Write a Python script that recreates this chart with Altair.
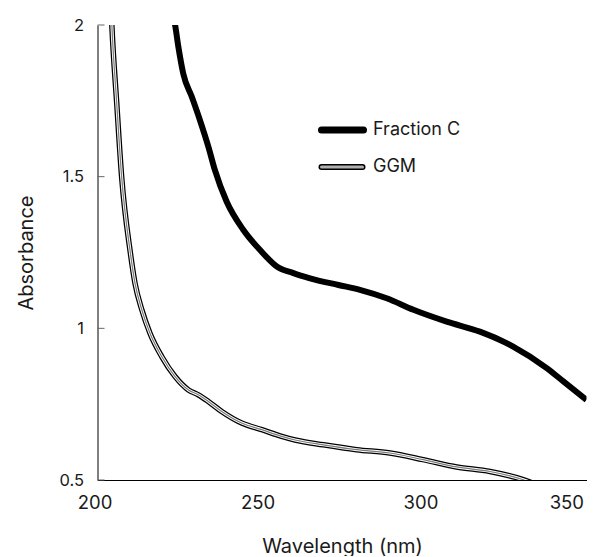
import altair as alt
import pandas as pd

# Fraction C absorbance spectrum
frac_wl = [222.5, 223.8, 224.8, 226.3, 228.9, 231.4, 234.0, 236.0, 239.6, 244.7, 249.8,
           255.0, 260.1, 265.2, 273.9, 280.5, 288.7, 296.9, 307.1, 317.3, 327.5, 337.8,
           342.9, 350.0]
frac_abs = [2.05, 2.0, 1.928, 1.84, 1.764, 1.687, 1.599, 1.522, 1.418, 1.325, 1.259,
            1.204, 1.182, 1.165, 1.143, 1.127, 1.099, 1.061, 1.022, 0.989, 0.940, 0.869,
            0.825, 0.764]

# GGM absorbance spectrum
ggm_wl = [204.2, 204.4, 205.9, 207.4, 210.0, 211.5, 213.6, 216.1, 219.7, 223.8, 227.9,
          230.9, 234.0, 238.1, 244.2, 250.4, 256.5, 260.6, 269.3, 279.5, 289.7, 299.9,
          310.2, 320.4, 330.6, 333.5]
ggm_abs = [2.05, 2.0, 1.742, 1.50, 1.255, 1.149, 1.061, 0.984, 0.907, 0.841, 0.797,
           0.781, 0.759, 0.726, 0.688, 0.666, 0.644, 0.632, 0.616, 0.600, 0.589, 0.567,
           0.543, 0.528, 0.501, 0.49]

x_ticks = [200, 250, 300, 350]
y_ticks = [0.5, 1, 1.5, 2]
legend_labels = ["Fraction C", "GGM"]

frac_df = pd.DataFrame({"wl": frac_wl, "abs": frac_abs})
ggm_df = pd.DataFrame({"wl": ggm_wl, "abs": ggm_abs})
tick_df = pd.DataFrame({"t": y_ticks})

FONT = "Inter"
TXT = "#1a1a1a"

x_axis = alt.Axis(values=x_ticks, ticks=False, tickSize=0, grid=False, domainColor="black",
                  labelFlush=False, labelOffset=-3,
                  labelAlign=alt.condition("datum.value == 350", alt.value("right"),
                                           alt.value("center")),
                  labelFontSize=18.5, labelFont=FONT, labelColor=TXT, labelPadding=13,
                  title="Wavelength (nm)", titleFontSize=20, titleFont=FONT,
                  titleFontWeight="normal", titleColor=TXT, titleBaseline="alphabetic",
                  titleY=72)
y_axis = alt.Axis(values=y_ticks, ticks=False, tickSize=0, grid=False, domainColor="black",
                  format=".1~f",
                  labelFontSize=16.5, labelFont=FONT, labelColor=TXT, labelPadding=14,
                  title="Absorbance", titleFontSize=20, titleFont=FONT,
                  titleFontWeight="normal", titleColor=TXT, titleX=-61, titleY=227.5,
                  titleBaseline="bottom")

xs = alt.Scale(domain=[200, 350], nice=False, zero=False)
ys = alt.Scale(domain=[0.5, 2], nice=False, zero=False)

def enc(chart):
    return chart.encode(
        x=alt.X("wl:Q", scale=xs, axis=x_axis),
        y=alt.Y("abs:Q", scale=ys, axis=y_axis),
    )

ggm_outer = enc(alt.Chart(ggm_df).mark_line(color="black", strokeWidth=5.5, clip=True,
                                            interpolate="monotone"))
ggm_white = enc(alt.Chart(ggm_df).mark_line(color="white", strokeWidth=3, clip=True,
                                            interpolate="monotone"))
ggm_core = enc(alt.Chart(ggm_df).mark_line(color="#7a7a7a", strokeWidth=1.2, clip=True,
                                           interpolate="monotone"))
frac = enc(alt.Chart(frac_df).mark_line(color="black", strokeWidth=6, clip=True,
                                        interpolate="monotone", strokeJoin="round"))

yticks = alt.Chart(tick_df).mark_rule(color="#666666", strokeWidth=1).encode(
    x=alt.value(0), x2=alt.value(7),
    y=alt.Y("t:Q", scale=ys, axis=y_axis),
)

# legend
leg1 = alt.Chart(pd.DataFrame({"a": [0]})).mark_rule(color="black", strokeWidth=7,
                                                     strokeCap="round").encode(
    x=alt.value(224), x2=alt.value(266), y=alt.value(105))
leg2a = alt.Chart(pd.DataFrame({"a": [0]})).mark_rule(color="black", strokeWidth=6,
                                                      strokeCap="round").encode(
    x=alt.value(224), x2=alt.value(265), y=alt.value(142))
leg2b = alt.Chart(pd.DataFrame({"a": [0]})).mark_rule(color="#b0b0b0", strokeWidth=3,
                                                      strokeCap="round").encode(
    x=alt.value(224), x2=alt.value(265), y=alt.value(142))
lab1 = alt.Chart(pd.DataFrame({"a": [0]})).mark_text(
    align="left", baseline="middle", fontSize=18, font=FONT, color=TXT).encode(
    x=alt.value(275.5), y=alt.value(105), text=alt.value(legend_labels[0]))
lab2 = alt.Chart(pd.DataFrame({"a": [0]})).mark_text(
    align="left", baseline="middle", fontSize=18, font=FONT, color=TXT).encode(
    x=alt.value(275.5), y=alt.value(142), text=alt.value(legend_labels[1]))

chart = alt.layer(
    ggm_outer, ggm_white, ggm_core, frac, yticks, leg1, leg2a, leg2b, lab1, lab2
).properties(
    width=489, height=455,
    autosize=alt.AutoSizeParams(type="none"),
    padding={"left": 89.5, "top": 17, "right": 7, "bottom": 76},
).configure_view(stroke=None)

chart.save("out.html", embed_options={"renderer": "svg", "actions": False})
